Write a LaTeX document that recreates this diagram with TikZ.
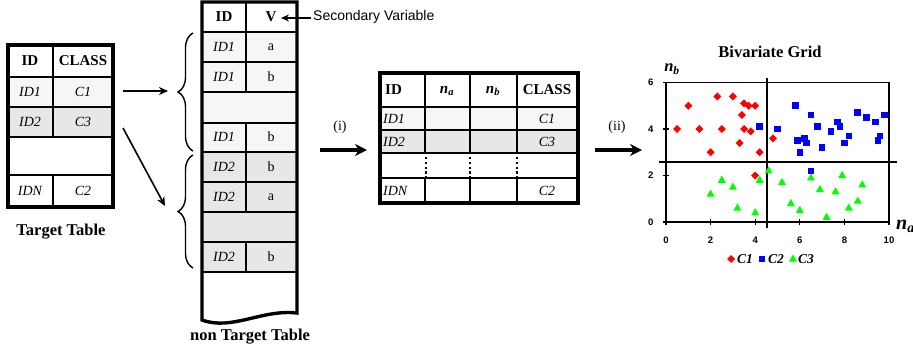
\documentclass[tikz,border=0pt]{standalone}
\usepackage{fontspec}
\setmainfont{Liberation Serif}
\setsansfont{Liberation Sans}
\usetikzlibrary{arrows.meta,decorations.pathreplacing,calc}
\definecolor{lightrow}{gray}{0.965}
\definecolor{darkrow}{gray}{0.905}
\definecolor{cred}{RGB}{255,0,0}
\definecolor{cblue}{RGB}{0,0,255}
\definecolor{cgreen}{RGB}{0,255,0}
\begin{document}
\begin{tikzpicture}[x=1pt,y=-1pt,
  outerline/.style={line width=3.4pt},
  gridline/.style={line width=1.7pt},
  cell/.style={inner sep=0pt, font=\fontsize{14}{16}\selectfont\itshape},
  pcell/.style={inner sep=0pt, font=\fontsize{14}{16}\selectfont},
  head/.style={inner sep=0pt, font=\fontsize{15}{17}\selectfont\bfseries},
  caption/.style={inner sep=0pt, font=\fontsize{16.5}{19}\selectfont\bfseries},
  flow/.style={line width=1.6pt,-{Stealth[length=9pt,width=8pt]}},
  bigflow/.style={line width=3.6pt,-{Stealth[length=12pt,width=12pt]}},
  bracestyle/.style={line width=1.4pt, decorate, decoration={brace, amplitude=15pt}},
  ticklab/.style={inner sep=0pt, font=\sffamily\bfseries\fontsize{9.5}{11}\selectfont},
  legtext/.style={inner sep=0pt, anchor=west, font=\fontsize{13.5}{15}\selectfont\bfseries\itshape}
]
\useasboundingbox (0,0) rectangle (913,351);

% ---------------- Target table ----------------
\fill[lightrow] (8,77) rectangle (113,107);
\fill[darkrow] (8,107) rectangle (113,137);
\draw[gridline] (8,77) -- (113,77) (8,107) -- (113,107) (8,137) -- (113,137) (8,175) -- (113,175);
\draw[gridline] (53,45) -- (53,137) (53,175) -- (53,207);
\draw[outerline] (8,45) rectangle (113,207);
\node[head] (t-h1) at (30,61) {ID};
\node[head] (t-h2) at (83,61) {CLASS};
\node[cell] (t-a1) at (30,92) {ID1};
\node[cell] (t-a2) at (83,92) {C1};
\node[cell] (t-b1) at (30,122) {ID2};
\node[cell] (t-b2) at (83,122) {C3};
\node[cell] (t-n1) at (30,191) {IDN};
\node[cell] (t-n2) at (83,191) {C2};
\node[caption] (t-cap) at (61,232) {Target Table};

\coordinate (a1s) at (123,91);
\coordinate (a1e) at (168,91);
\coordinate (a2s) at (123,128);
\coordinate (a2e) at (165,206);
\draw[flow] (a1s) -- (a1e);
\draw[flow] (a2s) -- (a2e);

% ---------------- non Target table ----------------
\fill[lightrow] (202,32) rectangle (297,152);
\fill[darkrow] (202,152) rectangle (297,272);
\draw[gridline] (202,32) -- (297,32) (202,62) -- (297,62) (202,92) -- (297,92)
  (202,123) -- (297,123) (202,152) -- (297,152) (202,182) -- (297,182)
  (202,212) -- (297,212) (202,242) -- (297,242) (202,272) -- (297,272);
\draw[gridline] (246,2) -- (246,92) (246,123) -- (246,212) (246,242) -- (246,272);
\draw[outerline, line join=miter] (202,2) -- (297,2) -- (297,313)
  .. controls (262,309) and (232,331) .. (202,320) -- cycle;
\node[head] (n-h1) at (224,17) {ID};
\node[head] (n-h2) at (271,17) {V};
\node[cell] (n-r1a) at (224,47) {ID1};  \node[pcell] (n-r1b) at (271,47) {a};
\node[cell] (n-r2a) at (224,77) {ID1};  \node[pcell] (n-r2b) at (271,77) {b};
\node[cell] (n-r4a) at (224,137) {ID1}; \node[pcell] (n-r4b) at (271,137) {b};
\node[cell] (n-r5a) at (224,167) {ID2}; \node[pcell] (n-r5b) at (271,167) {b};
\node[cell] (n-r6a) at (224,197) {ID2}; \node[pcell] (n-r6b) at (271,197) {a};
\node[cell] (n-r8a) at (224,257) {ID2}; \node[pcell] (n-r8b) at (271,257) {b};
\node[caption] (n-cap) at (250,337) {non Target Table};

\draw[bracestyle] (193,151) -- (193,33);
\draw[bracestyle] (193,268) -- (193,155);

\node[anchor=west, inner sep=0pt, font=\sffamily\fontsize{14}{16}\selectfont] (sv) at (313,17) {Secondary Variable};
\coordinate (svs) at (311,18);
\coordinate (vtip) at (281,18);
\draw[line width=1.2pt, -{Stealth[length=8pt,width=7pt]}] (svs) -- (vtip);

% ---------------- middle table ----------------
\fill[lightrow] (380,107) rectangle (578,130);
\fill[darkrow] (380,130) rectangle (578,153);
\draw[gridline] (380,107) -- (578,107) (380,130) -- (578,130) (380,153) -- (578,153) (380,178) -- (578,178);
\draw[gridline] (425,73) -- (425,153) (425,178) -- (425,203)
  (470,73) -- (470,153) (470,178) -- (470,203)
  (517,73) -- (517,153) (517,178) -- (517,203);
\draw[line width=2.2pt, dash pattern=on 2.2pt off 2.6pt] (426,157) -- (426,177) (470,157) -- (470,177) (517,157) -- (517,177);
\draw[outerline] (380,73) rectangle (578,203);
\node[head, anchor=west] (m-h1) at (385,90) {ID};
\node[head] (m-h2) at (447,91) {\itshape n\textsubscript{a}};
\node[head] (m-h3) at (493,91) {\itshape n\textsubscript{b}};
\node[head] (m-h4) at (547,90) {CLASS};
\node[cell, anchor=west] (m-a1) at (383,119) {ID1};
\node[cell] (m-a4) at (547,119) {C1};
\node[cell, anchor=west] (m-b1) at (383,142) {ID2};
\node[cell] (m-b4) at (547,142) {C3};
\node[cell, anchor=west] (m-n1) at (383,191) {IDN};
\node[cell] (m-n4) at (547,191) {C2};

\coordinate (s1) at (320,150);
\coordinate (e1) at (367,150);
\draw[bigflow] (s1) -- (e1);
\node[pcell] (lab-i) at (340,127) {(i)};
\coordinate (s2) at (595,150);
\coordinate (e2) at (642,150);
\draw[bigflow] (s2) -- (e2);
\node[pcell] (lab-ii) at (617,127) {(ii)};

% ---------------- chart ----------------
\node[caption] (title) at (770,52) {Bivariate Grid};
\node[inner sep=0pt, font=\fontsize{16.5}{18}\selectfont\bfseries\itshape] (nb) at (672,69) {n\textsubscript{b}};
\node[inner sep=0pt, anchor=west, font=\fontsize{20}{22}\selectfont\bfseries\itshape] (na) at (896,226) {n\textsubscript{a}};

\begin{scope}[shift={(666pt,-222pt)}, x=22.3pt, y=23.25pt]
  \draw[line width=1.5pt] (0,0) -- (0,6) -- (10,6) -- (10,0) -- cycle;
  \foreach \t in {0,2,4,6} {
    \draw[line width=1.3pt] (-0.15,\t) -- (0.15,\t);
    \node[ticklab] (yl\t) at (-0.68,\t) {\t};
  }
  \foreach \t in {0,2,4,6,8,10} {
    \draw[line width=1.3pt] (\t,-0.15) -- (\t,0.15);
    \node[ticklab] (xl\t) at (\t,-0.78) {\t};
  }
  \draw[line width=2pt] (-0.3,2.58) -- (10.35,2.58);
  \draw[line width=2pt] (4.53,6.2) -- (4.53,-0.27);
  % C1 red diamonds
  \foreach \px/\py in {0.5/4,1/5,1.5/4,2/3,2.3/5.4,2.5/4,3/5.4,3.5/5.1,3.7/5,4/5,3.4/4.6,3.5/4,3.8/3.9,3.3/3.4,4.2/3,4.8/3.6,4/2}
    \fill[cred, shift={(\px,\py)}] (0pt,4pt) -- (4pt,0pt) -- (0pt,-4pt) -- (-4pt,0pt) -- cycle;
  % C2 blue squares
  \foreach \px/\py in {4.2/4.1,5/4,5.8/5,5.9/3.5,6/3,6.2/3.6,6.3/3.4,6.5/4.6,6.5/2.2,6.8/4.1,7/3.2,7.4/3.9,7.7/4.3,7.8/4.1,8/3.4,8.2/3.7,8.6/4.7,9/4.5,9.4/4.3,9.6/3.7,9.5/3.5,9.8/4.6}
    \fill[cblue, shift={(\px,\py)}] (-3.3pt,-3.3pt) rectangle (3.3pt,3.3pt);
  % C3 green triangles
  \foreach \px/\py in {2/1.2,2.5/1.8,3/1.5,3.2/0.6,4/0.4,4.2/1.8,4.6/2.2,5.2/1.7,5.6/0.8,6/0.5,6.5/1.9,6.9/1.4,7.2/0.2,7.6/1.3,7.9/2,8.2/0.6,8.6/0.9,8.8/1.6}
    \fill[cgreen, shift={(\px,\py)}] (0pt,4.6pt) -- (4pt,-2.6pt) -- (-4pt,-2.6pt) -- cycle;
\end{scope}

% legend
\fill[cred] (731,255) -- (735,259) -- (731,263) -- (727,259) -- cycle;
\node[legtext] (lg1) at (737,259) {C1};
\fill[cblue] (758.7,255.7) rectangle (765.3,262.3);
\node[legtext] (lg2) at (768,259) {C2};
\fill[cgreen] (793,254.4) -- (797,261.6) -- (789,261.6) -- cycle;
\node[legtext] (lg3) at (798,259) {C3};
\end{tikzpicture}
\end{document}
